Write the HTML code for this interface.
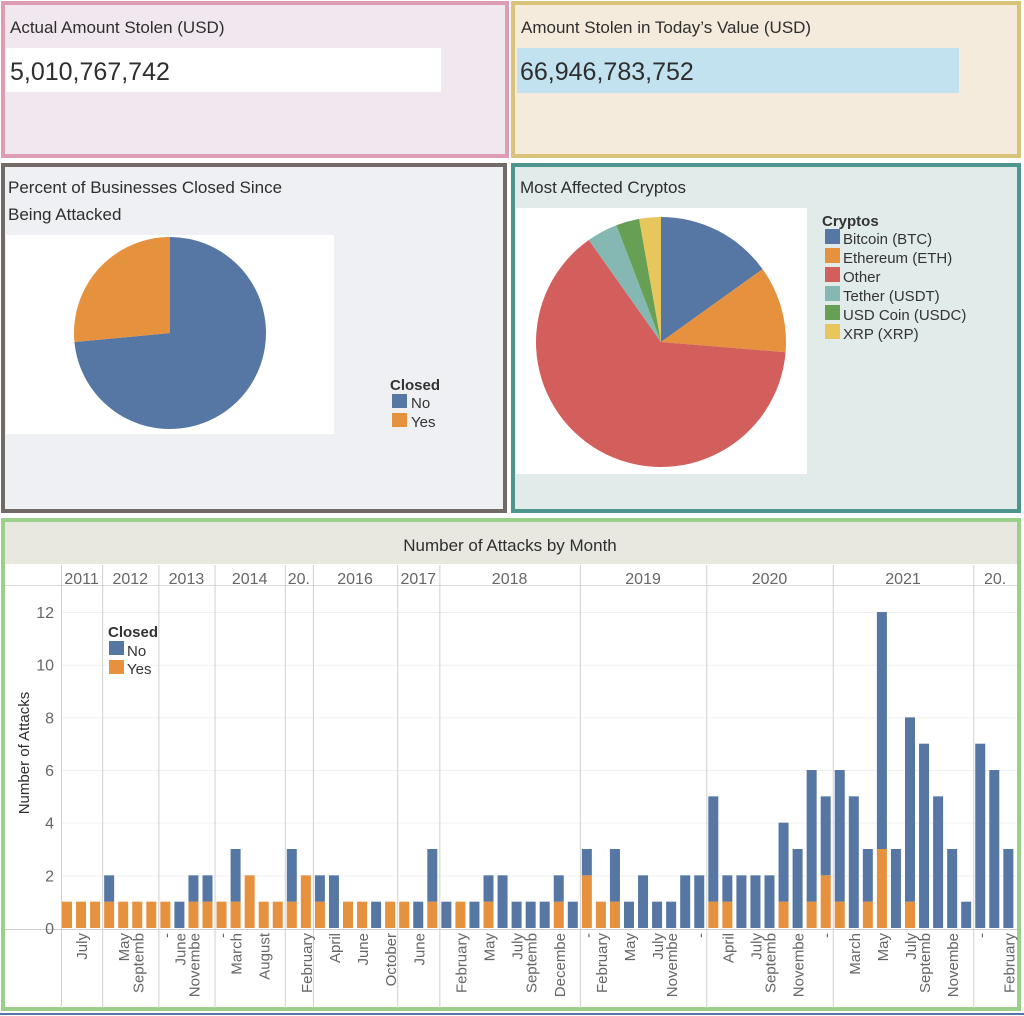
<!DOCTYPE html>
<html><head><meta charset="utf-8"><style>
html,body{margin:0;padding:0;background:#fff;}
svg{display:block;font-family:"Liberation Sans",sans-serif;}
</style></head><body>
<svg id="root" width="1024" height="1016" viewBox="0 0 1024 1016" xmlns="http://www.w3.org/2000/svg">
<defs>
<clipPath id="mclip"><rect x="61" y="930" width="958" height="75"/></clipPath>
<clipPath id="yclip"><rect x="61" y="565" width="958" height="20"/></clipPath>
</defs>
<!-- KPI 1 -->
<g>
<rect x="3" y="3" width="504" height="153" fill="#f1e7ef" stroke="#dc9cb3" stroke-width="4"/>
<text x="10" y="33" font-size="17" fill="#2e2e2e">Actual Amount Stolen (USD)</text>
<rect x="6" y="48" width="435" height="44" fill="#ffffff"/>
<text x="10" y="80" font-size="25" fill="#2e2e2e">5,010,767,742</text>
</g>
<!-- KPI 2 -->
<g>
<rect x="513" y="3" width="506" height="153" fill="#f4ebdc" stroke="#d9c27a" stroke-width="4"/>
<text x="521" y="33" font-size="17" fill="#2e2e2e">Amount Stolen in Today’s Value (USD)</text>
<rect x="517" y="48" width="442" height="45" fill="#c2e2ef"/>
<text x="520" y="80" font-size="25" fill="#2e2e2e">66,946,783,752</text>
</g>
<!-- Closed pie -->
<g>
<rect x="3" y="165" width="502" height="346" fill="#eef0f3" stroke="#716a67" stroke-width="4"/>
<text x="8" y="193" font-size="17" fill="#2e2e2e">Percent of Businesses Closed Since</text>
<text x="8" y="220" font-size="17" fill="#2e2e2e">Being Attacked</text>
<rect x="6" y="235" width="328" height="199" fill="#fff"/>
<g id="pie1"></g>
<text x="390" y="390" font-size="15" font-weight="bold" fill="#333">Closed</text>
<rect x="392" y="394" width="15" height="14" fill="#5677a4"/><text x="411" y="408" font-size="15" fill="#333">No</text>
<rect x="392" y="413" width="15" height="14" fill="#e6913e"/><text x="411" y="427" font-size="15" fill="#333">Yes</text>
</g>
<!-- Crypto pie -->
<g>
<rect x="513" y="165" width="506" height="346" fill="#e1ebea" stroke="#4e958e" stroke-width="4"/>
<text x="520" y="193" font-size="17" fill="#2e2e2e">Most Affected Cryptos</text>
<rect x="516" y="208" width="291" height="266" fill="#fff"/>
<g id="pie2"></g>
<g id="leg2"><text x="822" y="226" font-size="15" font-weight="bold" fill="#333">Cryptos</text></g>
</g>
<!-- Bar chart -->
<g>
<rect x="3" y="520" width="1016" height="489" fill="#fff" stroke="#9bd08a" stroke-width="4"/>
<rect x="5" y="522" width="1012" height="42" fill="#e8e8e1"/>
<text x="510" y="551" font-size="17" fill="#2e2e2e" text-anchor="middle">Number of Attacks by Month</text>
<line x1="5" y1="585.5" x2="1017" y2="585.5" stroke="#dcdcdc"/>
<line x1="5" y1="929.5" x2="1017" y2="929.5" stroke="#cfcfcf"/>
<g id="grid"></g>
<g id="bars"></g>
<g id="years" clip-path="url(#yclip)"></g>
<g id="months" clip-path="url(#mclip)"></g>
<g id="yticks"></g>
<text transform="translate(29,753) rotate(-90)" font-size="15" fill="#2e2e2e" text-anchor="middle">Number of Attacks</text>
<text x="108" y="637" font-size="15" font-weight="bold" fill="#333">Closed</text>
<rect x="109" y="641" width="15" height="14" fill="#5677a4"/><text x="127" y="656" font-size="15" fill="#333">No</text>
<rect x="109" y="660" width="15" height="14" fill="#e6913e"/><text x="127" y="674" font-size="15" fill="#333">Yes</text>
</g>
<line x1="0" y1="1014" x2="1024" y2="1014" stroke="#5677a4" stroke-width="2"/>
</svg>
<script>
const closedLabels = ["No","Yes"];
const closedValues = [73.5,26.5];
const cryptoLabels = ["Bitcoin (BTC)","Ethereum (ETH)","Other","Tether (USDT)","USD Coin (USDC)","XRP (XRP)"];
const cryptoValues = [15.1,11.2,63.9,4.0,3.0,2.8];
const noValues  = [0,0,0,1,0,0,0,0,1,1,1,0,2,0,0,0,2,0,1,2,0,0,1,0,0,1,2,1,0,1,1,2,1,1,1,1,1,1,0,2,1,2,1,1,2,2,4,1,2,2,2,3,3,5,3,5,5,2,9,3,7,7,5,3,1,7,6,3];
const yesValues = [1,1,1,1,1,1,1,1,0,1,1,1,1,2,1,1,1,2,1,0,1,1,0,1,1,0,1,0,1,0,1,0,0,0,0,1,0,2,1,1,0,0,0,0,0,0,1,1,0,0,0,1,0,1,2,1,0,1,3,0,1,0,0,0,0,0,0,0];
const monthLabels = {1:"July",4:"May",5:"Septemb",7:"-",8:"June",9:"Novembe",11:"-",12:"March",14:"August",17:"February",19:"April",21:"June",23:"October",25:"June",28:"February",30:"May",32:"July",33:"Septemb",35:"Decembe",37:"-",38:"February",40:"May",42:"July",43:"Novembe",45:"-",47:"April",49:"July",50:"Septemb",52:"Novembe",54:"-",56:"March",58:"May",60:"July",61:"Septemb",63:"Novembe",65:"-",67:"February"};
const yearLabels = ["2011","2012","2013","2014","20.","2016","2017","2018","2019","2020","2021","20."];
const yearStarts = [0,3,7,11,16,18,24,27,37,46,55,65];
const yTicks = [0,2,4,6,8,10,12];

const NS="http://www.w3.org/2000/svg";
function mk(tag,attrs,parent){const e=document.createElementNS(NS,tag);for(const k in attrs)e.setAttribute(k,attrs[k]);parent.appendChild(e);return e;}

function pie(g,cx,cy,r,vals,cols,names){
  const tot=vals.reduce((a,b)=>a+b,0);let a0=0;
  vals.forEach((v,i)=>{
    const a1=a0+v/tot*2*Math.PI;
    const x0=cx+r*Math.sin(a0),y0=cy-r*Math.cos(a0),x1=cx+r*Math.sin(a1),y1=cy-r*Math.cos(a1);
    const p=mk("path",{d:`M${cx},${cy}L${x0},${y0}A${r},${r} 0 ${a1-a0>Math.PI?1:0} 1 ${x1},${y1}Z`,fill:cols[i]},g);
    
    
    a0=a1;
  });
}
const dir = closedValues; // No clockwise from top
pie(document.getElementById("pie1"),170,333,96,closedValues,["#5677a4","#e6913e"],closedLabels);
const cCols=["#5677a4","#e6913e","#d35f5c","#86b8b3","#67a054","#e7c75c"];
pie(document.getElementById("pie2"),661,342,125,cryptoValues,cCols,cryptoLabels);
const leg2=document.getElementById("leg2");
cryptoLabels.forEach((l,i)=>{
  const y=229+i*19;
  mk("rect",{x:825,y:y,width:15,height:15,fill:cCols[i]},leg2);
  const t=mk("text",{x:843,y:y+15,"font-size":15,fill:"#333"},leg2);t.textContent=l;
  
  
});

// bar chart
const X0=62, STEP=14.05, BW=10, Y0=928, PU=26.33;
const xs=i=>X0+i*STEP, ys=v=>Y0-v*PU;
const grid=document.getElementById("grid");
yTicks.forEach(t=>{
  if(t>0) mk("line",{x1:61,x2:1017,y1:ys(t)+.5,y2:ys(t)+.5,stroke:"#f0f0f0"},grid);
  const tx=mk("text",{x:54,y:ys(t)+6,"font-size":16,fill:"#666","text-anchor":"end"},document.getElementById("yticks"));
  tx.textContent=t;
  
  
});
const yearsG=document.getElementById("years");
mk("line",{x1:61.5,x2:61.5,y1:565,y2:1008,stroke:"#d0d0d0"},grid);
yearStarts.forEach((s,i)=>{
  const xa=i===0?61:xs(s)-2;
  const xb=i<yearStarts.length-1?xs(yearStarts[i+1])-2:1017;
  if(i>0) mk("line",{x1:xa+.5,x2:xa+.5,y1:565,y2:1008,stroke:"#d0d0d0"},grid);
  const t=mk("text",{x:(xa+xb)/2,y:584,"font-size":16,fill:"#666","text-anchor":"middle"},yearsG);
  t.textContent=yearLabels[i];
  
  
});
const bars=document.getElementById("bars");
noValues.forEach((n,i)=>{
  const y=yesValues[i];
  if(y>0){const r=mk("rect",{x:xs(i),y:ys(y),width:BW,height:y*PU,fill:"#e6913e"},bars);
    
    }
  if(n>0){const r=mk("rect",{x:xs(i),y:ys(y+n),width:BW,height:n*PU,fill:"#5677a4"},bars);
    
    }
});
const months=document.getElementById("months");
for(const k in monthLabels){
  const cx=xs(+k)+BW/2+6;
  const t=mk("text",{transform:`translate(${cx},933) rotate(-90)`,"font-size":15,fill:"#666","text-anchor":"end"},months);
  t.textContent=monthLabels[k];
  
  
}
</script>
</body></html>
